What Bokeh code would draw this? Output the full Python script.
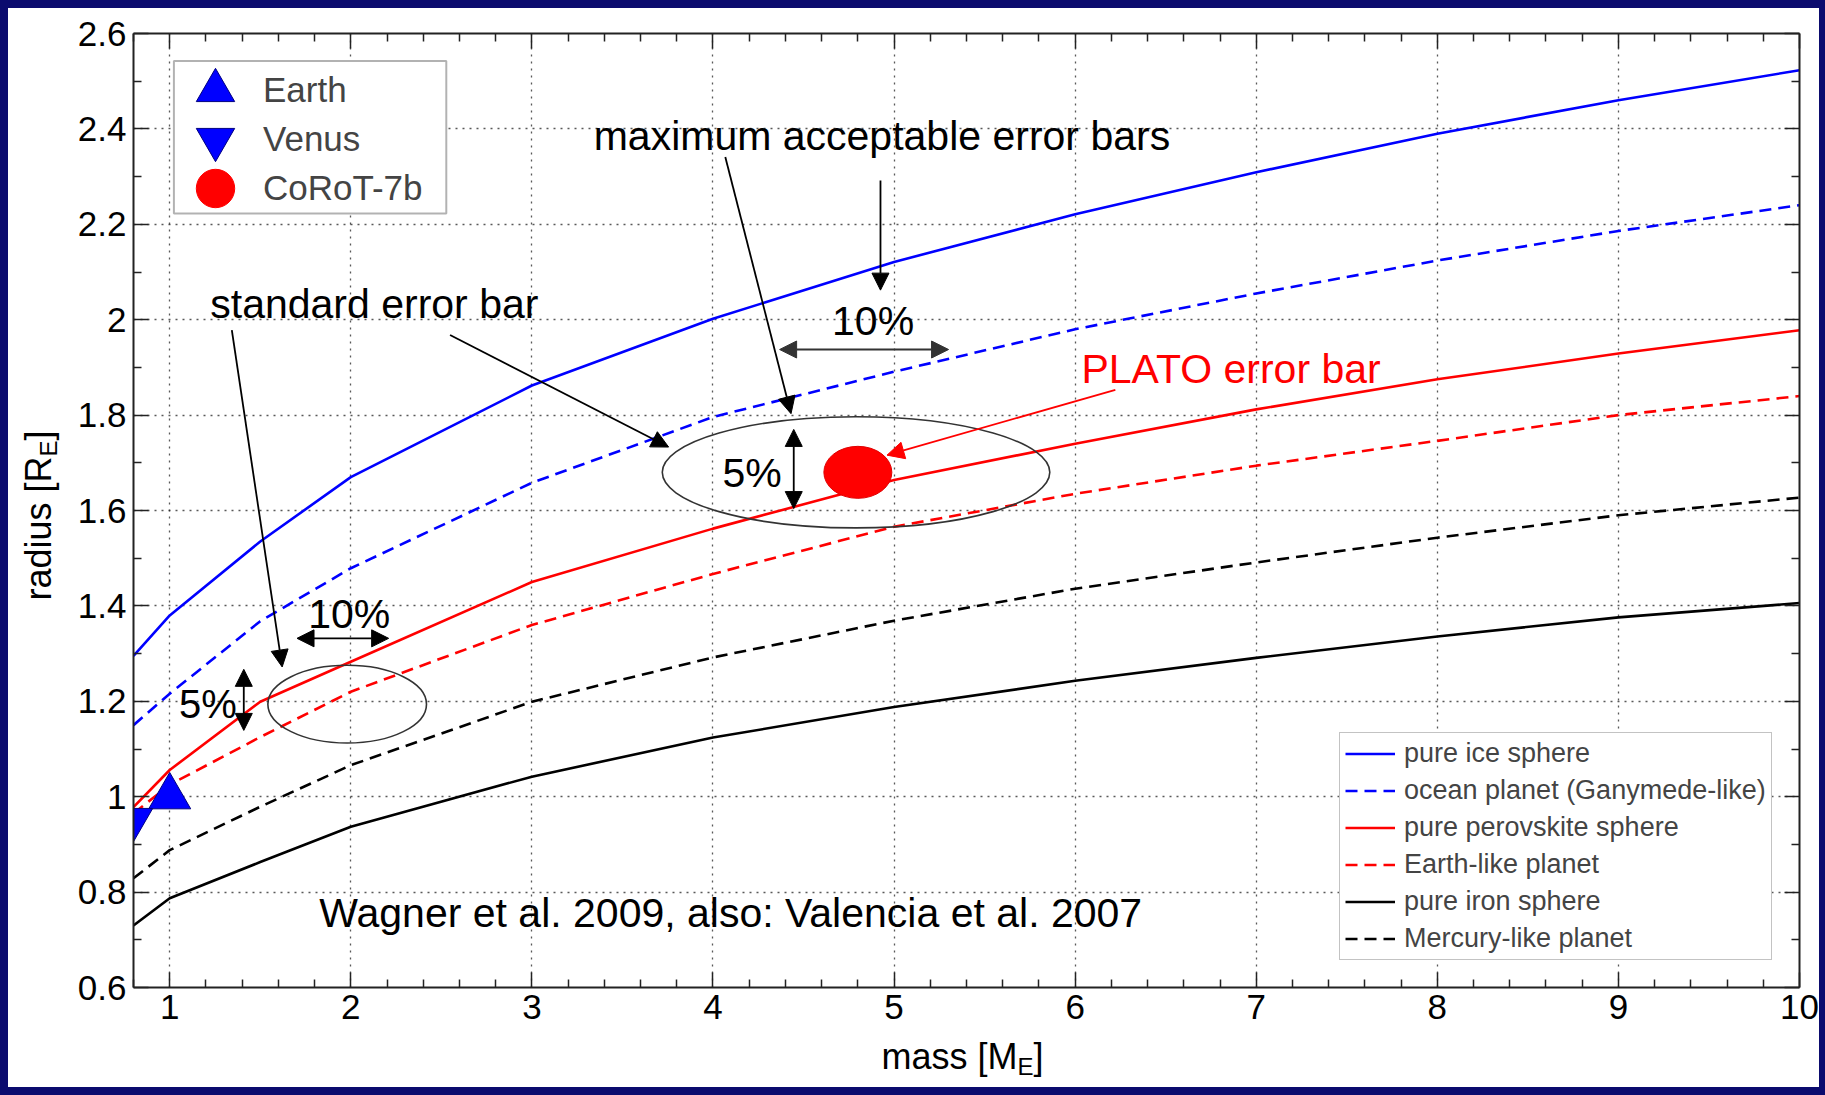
from bokeh.plotting import figure
from bokeh.layouts import row, column
from bokeh.models import (Range1d, FixedTicker, LinearAxis, Legend, LegendItem, Label,
                          Arrow, NormalHead, BoxAnnotation, CustomJSTickFormatter)
from bokeh.embed import file_html
from bokeh.resources import INLINE

FONT = "Liberation Sans"

# ---------------- data ----------------
mass = [0.8, 1.0, 1.5, 2.0, 3.0, 4.0, 5.0, 6.0, 7.0, 8.0, 9.0, 10.0]
pure_ice = [1.295, 1.380, 1.535, 1.670, 1.862, 2.002, 2.121, 2.221, 2.309, 2.390, 2.460, 2.523]
ocean_planet = [1.150, 1.216, 1.368, 1.479, 1.658, 1.796, 1.891, 1.980, 2.055, 2.124, 2.186, 2.240]
pure_perovskite = [0.978, 1.056, 1.199, 1.283, 1.450, 1.562, 1.664, 1.740, 1.812, 1.875, 1.929, 1.978]
earth_like = [0.965, 1.025, 1.125, 1.220, 1.360, 1.467, 1.566, 1.635, 1.694, 1.746, 1.800, 1.840]
pure_iron = [0.730, 0.787, 0.863, 0.937, 1.042, 1.124, 1.188, 1.243, 1.291, 1.336, 1.376, 1.406]
mercury_like = [0.829, 0.888, 0.979, 1.066, 1.199, 1.292, 1.369, 1.436, 1.491, 1.543, 1.590, 1.627]

series_labels = ["pure ice sphere", "ocean planet (Ganymede-like)", "pure perovskite sphere",
                 "Earth-like planet", "pure iron sphere", "Mercury-like planet"]

earth_mass = [1.0]
earth_radius = [1.0]
venus_mass = [0.79]
venus_radius = [0.95]
corot_mass = [4.8]
corot_radius = [1.68]
point_labels = ["Earth", "Venus", "CoRoT-7b"]

x_ticks = [1, 2, 3, 4, 5, 6, 7, 8, 9, 10]
x_tick_labels = ["1", "2", "3", "4", "5", "6", "7", "8", "9", "10"]
x_minor = [0.8, 1.2, 1.4, 1.6, 1.8, 2.2, 2.4, 2.6, 2.8, 3.2, 3.4, 3.6, 3.8, 4.2, 4.4, 4.6, 4.8,
           5.2, 5.4, 5.6, 5.8, 6.2, 6.4, 6.6, 6.8, 7.2, 7.4, 7.6, 7.8, 8.2, 8.4, 8.6, 8.8,
           9.2, 9.4, 9.6, 9.8]
y_ticks = [0.6, 0.8, 1.0, 1.2, 1.4, 1.6, 1.8, 2.0, 2.2, 2.4, 2.6]
y_tick_labels = ["0.6", "0.8", "1", "1.2", "1.4", "1.6", "1.8", "2", "2.2", "2.4", "2.6"]
y_minor = [0.7, 0.9, 1.1, 1.3, 1.5, 1.7, 1.9, 2.1, 2.3, 2.5]

x_title = ["mass [M", "E", "]"]
y_title = ["radius [R", "E", "]"]

# annotation geometry (error-bar ellipses, texts, arrows)
ell_x = [4.79, 1.98]
ell_y = [1.68, 1.194]
ell_w = [2.14, 0.876]
ell_h = [0.233, 0.163]

ann_texts = ["maximum acceptable error bars", "standard error bar", "PLATO error bar",
             "10%", "5%", "10%", "5%", "Wagner et al. 2009, also: Valencia et al. 2007"]
ann_x = [4.933, 2.130, 6.861, 4.884, 4.216, 1.991, 1.211, 4.098]
ann_y = [2.386, 2.033, 1.896, 1.998, 1.679, 1.384, 1.195, 0.757]
ann_col = ["black", "black", "#ff0000", "black", "black", "black", "black", "black"]
ann_size = ["41px", "41px", "41px", "41px", "41px", "41px", "40px", "41px"]

# x0, y0, x1, y1, double-headed, colour
arrows = [
    (1.343, 1.978, 1.621, 1.272, False, "black"),
    (2.548, 1.968, 3.755, 1.733, False, "black"),
    (4.068, 2.341, 4.431, 1.803, False, "black"),
    (4.925, 2.292, 4.925, 2.062, False, "black"),
    (4.368, 1.9375, 5.301, 1.9375, True, "#333333"),
    (4.446, 1.770, 4.446, 1.604, True, "black"),
    (6.222, 1.853, 4.961, 1.716, False, "#ff0000"),
    (1.703, 1.332, 2.209, 1.332, True, "black"),
    (1.409, 1.267, 1.409, 1.139, True, "black"),
]

# ---------------- main figure ----------------
MAIN_H = 1026
p = figure(width=1751, height=MAIN_H, x_range=Range1d(0.8, 10), y_range=Range1d(0.6, 2.6),
           output_backend="svg", toolbar_location=None,
           min_border_left=65, min_border_right=20, min_border_top=25, min_border_bottom=47,
           background_fill_color="white", border_fill_color="white")
p.outline_line_color = None

xt = FixedTicker(ticks=x_ticks, minor_ticks=x_minor)
yt = FixedTicker(ticks=y_ticks, minor_ticks=y_minor)

def style_axis(ax, show_labels):
    ax.axis_line_color = "#222222"
    ax.axis_line_width = 2
    ax.major_tick_in = 15
    ax.major_tick_out = 0
    ax.minor_tick_in = 8
    ax.minor_tick_out = 0
    ax.major_tick_line_color = "#222222"
    ax.minor_tick_line_color = "#222222"
    ax.major_tick_line_width = 1.5
    ax.minor_tick_line_width = 1.5
    ax.axis_label = None
    if show_labels:
        ax.major_label_text_font = FONT
        ax.major_label_text_font_size = "35px"
        ax.major_label_text_color = "black"
    else:
        ax.formatter = CustomJSTickFormatter(code="return ''")
        ax.major_label_text_font_size = "1px"
        ax.major_label_standoff = 0

xa = p.xaxis[0]
xa.ticker = xt
style_axis(xa, True)
xa.major_label_overrides = {t: s for t, s in zip(x_ticks, x_tick_labels)}
xa.major_label_standoff = 7

ya = p.yaxis[0]
ya.ticker = yt
style_axis(ya, True)
ya.major_label_overrides = {t: s for t, s in zip(y_ticks, y_tick_labels)}
ya.major_label_standoff = 7

top_ax = LinearAxis(ticker=FixedTicker(ticks=x_ticks, minor_ticks=x_minor))
style_axis(top_ax, False)
p.add_layout(top_ax, "above")
right_ax = LinearAxis(ticker=FixedTicker(ticks=y_ticks, minor_ticks=y_minor))
style_axis(right_ax, False)
p.add_layout(right_ax, "right")

for g in (p.xgrid[0], p.ygrid[0]):
    g.grid_line_color = "#222222"
    g.grid_line_alpha = 0.75
    g.grid_line_dash = "2 5"
    g.grid_line_width = 1.3
p.xgrid[0].ticker = FixedTicker(ticks=x_ticks)
p.ygrid[0].ticker = FixedTicker(ticks=y_ticks)

# ---------------- curves ----------------
curve_specs = [
    (pure_ice, "#0000ff", "solid"),
    (ocean_planet, "#0000ff", "12 7"),
    (pure_perovskite, "#ff0000", "solid"),
    (earth_like, "#ff0000", "12 7"),
    (pure_iron, "black", "solid"),
    (mercury_like, "black", "12 7"),
]
curve_renderers = []
for vals, col, dash in curve_specs:
    r = p.line(mass, vals, line_color=col, line_width=2.6, line_dash=dash)
    curve_renderers.append(r)

# ---------------- error-bar ellipses ----------------
p.ellipse(x=ell_x, y=ell_y, width=ell_w, height=ell_h, fill_color=None,
          line_color="#333333", line_width=1.6)

# ---------------- planets ----------------
r_earth = p.scatter(earth_mass, earth_radius, marker="triangle", size=42,
                    fill_color="#0000ff", line_color="#000080", line_width=1)
r_venus = p.scatter(venus_mass, venus_radius, marker="inverted_triangle", size=42,
                    fill_color="#0000ff", line_color="#000080", line_width=1)
r_corot = p.scatter(corot_mass, corot_radius, marker="circle", size=50,
                    fill_color="#ff0000", line_color="#ff0000")
p.ellipse(x=corot_mass, y=corot_radius, width=68, height=52, width_units="screen",
          height_units="screen", fill_color="#ff0000", line_color="#e00000")

# ---------------- arrows ----------------
for x0, y0, x1, y1, dbl, col in arrows:
    kw = dict(end=NormalHead(size=17, fill_color=col, line_color=col),
              x_start=x0, y_start=y0, x_end=x1, y_end=y1,
              line_color=col, line_width=1.8)
    if dbl:
        kw["start"] = NormalHead(size=17, fill_color=col, line_color=col)
    p.add_layout(Arrow(**kw))

# ---------------- annotation texts ----------------
for t, x, y, c, s in zip(ann_texts, ann_x, ann_y, ann_col, ann_size):
    p.add_layout(Label(x=x, y=y, text=t, text_font=FONT, text_font_size=s,
                       text_color=c, text_align="center", text_baseline="alphabetic"))

# ---------------- legends ----------------
box = BoxAnnotation(left=40.4, right=312.8, bottom=774, top=926.6,
                    left_units="screen", right_units="screen",
                    bottom_units="screen", top_units="screen",
                    fill_color="white", fill_alpha=1.0, line_color="black", line_width=2,
                    level="annotation")
p.add_layout(box)

for lab, rend, vy in zip(point_labels, [r_earth, r_venus, r_corot], [849, 800, 751]):
    lg = Legend(items=[LegendItem(label=lab, renderers=[rend])],
                location=(34, vy), glyph_width=96, glyph_height=96, label_height=30,
                spacing=0, padding=0, margin=0, label_standoff=-3,
                label_text_font=FONT, label_text_font_size="35px",
                border_line_color=None, background_fill_alpha=0.0)
    p.add_layout(lg)

leg2 = Legend(items=[LegendItem(label=l, renderers=[r]) for l, r in zip(series_labels, curve_renderers)],
              location=(1206, 27), glyph_width=50, glyph_height=31, label_height=31,
              spacing=6, padding=5, margin=0, label_standoff=9,
              label_text_font=FONT, label_text_font_size="27px",
              border_line_color="#888888", border_line_width=1.5,
              background_fill_color="white", background_fill_alpha=1.0)
p.add_layout(leg2)

# ---------------- axis-title strips (real text with subscripts) ----------------
def blank_fig(w, h):
    f = figure(width=w, height=h, x_range=Range1d(0, 1), y_range=Range1d(0, 1),
               x_axis_type=None, y_axis_type=None, output_backend="svg",
               toolbar_location=None, min_border=0,
               background_fill_color="white", border_fill_color="white")
    f.outline_line_color = None
    f.grid.visible = False
    return f

ylab = blank_fig(60, MAIN_H)
for txt, x, y, size in zip(y_title, [30, 40, 30], [387, 531, 547], ["36px", "24px", "36px"]):
    ylab.add_layout(Label(x=x, y=y, x_units="screen", y_units="screen", text=txt, angle=1.5708,
                          text_font=FONT, text_font_size=size, text_color="black",
                          text_align="left", text_baseline="alphabetic"))

xlab = blank_fig(1811, 1079 - MAIN_H)
for txt, x, y, size in zip(x_title, [873, 1009, 1025], [31, 21, 31], ["36px", "24px", "36px"]):
    xlab.add_layout(Label(x=x, y=y, x_units="screen", y_units="screen", text=txt,
                          text_font=FONT, text_font_size=size, text_color="black",
                          text_align="left", text_baseline="alphabetic"))

layout = column(row(ylab, p, styles={"background-color": "white"}), xlab,
                styles={"background-color": "white"})

html = file_html(layout, INLINE)
css = ("<style>html, body { background-color: #0b0b6e !important; } "
       "body { padding: 8px 6px 8px 8px !important; }</style>")
html = html.replace("</head>", css + "</head>", 1)
open("out.html", "w").write(html)
